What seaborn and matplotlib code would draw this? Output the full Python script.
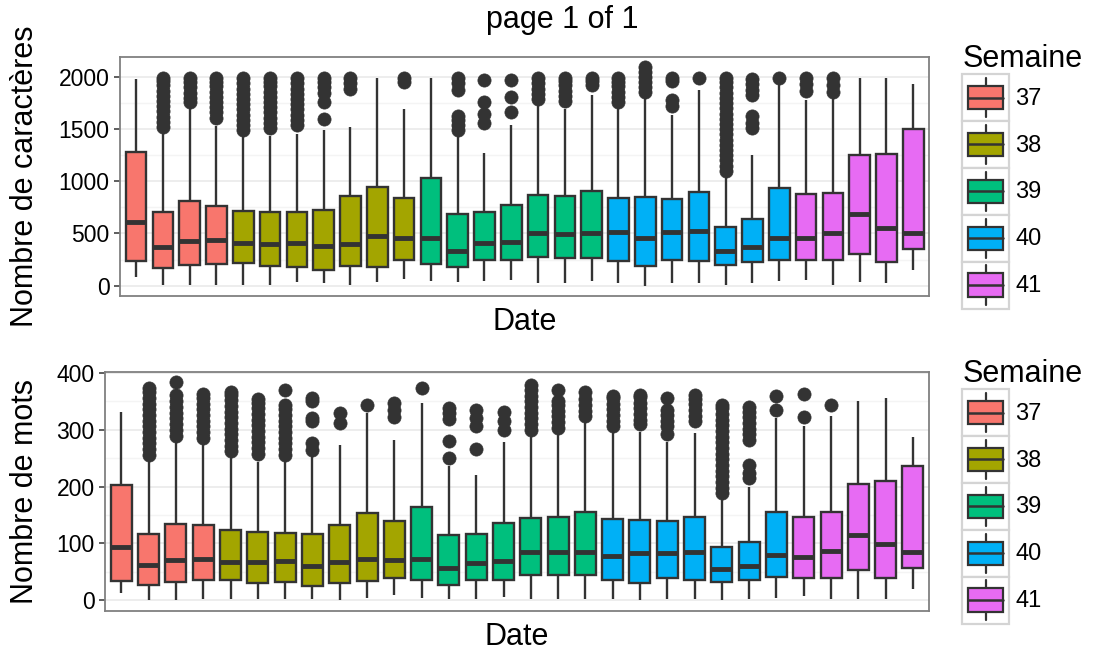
import matplotlib
matplotlib.use("Agg")
import matplotlib.pyplot as plt
from matplotlib.legend_handler import HandlerBase
from matplotlib.patches import Patch, Rectangle
from matplotlib.lines import Line2D
from matplotlib.ticker import MultipleLocator
import pandas as pd
import seaborn as sns

dates = ["2014-09-11", "2014-09-12", "2014-09-13", "2014-09-14",
         "2014-09-15", "2014-09-16", "2014-09-17", "2014-09-18", "2014-09-19", "2014-09-20", "2014-09-21",
         "2014-09-22", "2014-09-23", "2014-09-24", "2014-09-25", "2014-09-26", "2014-09-27", "2014-09-28",
         "2014-09-29", "2014-09-30", "2014-10-01", "2014-10-02", "2014-10-03", "2014-10-04", "2014-10-05",
         "2014-10-06", "2014-10-07", "2014-10-08", "2014-10-09", "2014-10-10"]
weeks = ["37", "37", "37", "37",
         "38", "38", "38", "38", "38", "38", "38",
         "39", "39", "39", "39", "39", "39", "39",
         "40", "40", "40", "40", "40", "40", "40",
         "41", "41", "41", "41", "41"]
week_order = ["37", "38", "39", "40", "41"]
week_colors = ["#F8766D", "#A3A500", "#00BF7D", "#00B0F6", "#E76BF3"]

# nombre de caractères : moustache basse, Q1, médiane, Q3, moustache haute, points extrêmes
chars_lo = [80, 10, 10, 10, 10, 10, 30, 25, 5, 35, 64, 41, 35, 41, 57,
            25, 25, 41, 25, 0, 25, 25, 10, 25, 41, 57, 10, 32, 25, 146]
chars_q1 = [240, 170, 201, 207, 217, 185, 175, 153, 191, 178, 248, 210, 178, 248, 242,
            274, 264, 264, 233, 185, 248, 239, 201, 223, 245, 242, 242, 306, 226, 350]
chars_med = [605, 366, 430, 440, 408, 398, 408, 376, 401, 471, 455, 455, 334, 408, 417,
             503, 497, 503, 513, 455, 510, 519, 334, 369, 455, 455, 503, 685, 551, 503]
chars_q3 = [1284, 704, 815, 764, 717, 710, 701, 720, 863, 949, 844, 1029, 685, 704, 771,
            869, 860, 911, 838, 847, 831, 895, 557, 640, 935, 876, 885, 1252, 1261, 1497]
chars_hi = [1984, 1459, 1713, 1529, 1452, 1433, 1452, 1490, 1522, 1994, 1698, 1991, 1433, 1268, 1538,
            1729, 1698, 1825, 1713, 1809, 1634, 1873, 1029, 1250, 1950, 1784, 1809, 1994, 1994, 1936]
chars_out = [
    [],
    [1520, 1570, 1620, 1670, 1720, 1770, 1820, 1870, 1920, 1960, 1990],
    [1760, 1800, 1850, 1900, 1950, 1990],
    [1610, 1660, 1710, 1760, 1810, 1860, 1910, 1950, 1990],
    [1490, 1540, 1590, 1640, 1690, 1740, 1790, 1840, 1890, 1940, 1990],
    [1510, 1560, 1610, 1660, 1710, 1760, 1810, 1860, 1910, 1950, 1990],
    [1540, 1590, 1640, 1690, 1740, 1790, 1840, 1890, 1940, 1990],
    [1602, 1761, 1850, 1900, 1950, 1990],
    [1890, 1940, 1990],
    [],
    [1950, 1990],
    [],
    [1490, 1540, 1590, 1630, 1880, 1940, 1990],
    [1561, 1650, 1761, 1975],
    [1666, 1809, 1975],
    [1790, 1840, 1890, 1940, 1990],
    [1770, 1820, 1870, 1920, 1960, 1990],
    [1920, 1960, 1990],
    [1765, 1810, 1860, 1910, 1950, 1990],
    [1857, 1900, 1950, 2000, 2050, 2096],
    [1720, 1775, 1960, 1995],
    [1990],
    [1100, 1150, 1200, 1250, 1300, 1350, 1400, 1450, 1500, 1550, 1600, 1650, 1700, 1750, 1800,
     1850, 1900, 1950, 1990],
    [1510, 1560, 1630, 1830, 1880, 1930, 1985],
    [1995],
    [1870, 1930, 1990],
    [1860, 1920, 1990],
    [],
    [],
    [],
]

# nombre de mots
words_lo = [13, 0, 0, 2, 2, 1, 2, 2, 0, 4, 9, 4, 2, 2, 6,
            2, 2, 2, 1, 0, 2, 2, 0, 2, 4, 7, 2, 2, 2, 20]
words_q1 = [33, 26, 32, 36, 35, 29, 32, 25, 30, 33, 39, 35, 26, 36, 36,
            44, 44, 44, 36, 30, 39, 36, 32, 35, 41, 38, 38, 52, 39, 57]
words_med = [94, 61, 70, 73, 67, 67, 68, 60, 67, 73, 70, 73, 56, 66, 68,
             85, 85, 84, 77, 83, 83, 84, 54, 60, 79, 76, 86, 115, 98, 84]
words_q3 = [202, 117, 134, 133, 123, 120, 118, 117, 132, 154, 140, 164, 114, 117, 135,
            145, 146, 155, 143, 141, 139, 146, 94, 102, 155, 146, 155, 205, 209, 237]
words_hi = [332, 243, 279, 275, 250, 244, 245, 252, 274, 329, 282, 348, 237, 221, 279,
            288, 291, 312, 295, 297, 278, 294, 177, 200, 320, 306, 325, 350, 356, 287]
words_out = [
    [],
    [256, 266, 276, 286, 296, 306, 316, 326, 336, 346, 356, 366, 374],
    [290, 300, 310, 320, 330, 340, 350, 361, 385],
    [286, 296, 306, 316, 326, 336, 346, 356, 364],
    [262, 272, 282, 292, 302, 312, 322, 332, 342, 352, 362, 367],
    [258, 268, 278, 288, 298, 308, 318, 328, 338, 348, 354],
    [256, 266, 276, 286, 296, 306, 316, 326, 336, 344, 370],
    [265, 276, 315, 320, 350, 357],
    [312, 329],
    [344],
    [323, 335, 347],
    [373],
    [250, 280, 319, 329, 338],
    [266, 306, 320, 335],
    [300, 315, 332],
    [300, 310, 320, 330, 340, 350, 360, 370, 379],
    [304, 314, 324, 334, 344, 350, 370],
    [324, 334, 344, 354, 366],
    [306, 316, 326, 336, 346, 356, 360],
    [310, 318, 328, 338, 348, 358, 361],
    [292, 306, 316, 326, 335, 356],
    [315, 325, 335, 345, 355, 361],
    [189, 198, 208, 218, 228, 238, 248, 258, 268, 278, 288, 298, 308, 318, 328, 338, 344],
    [215, 224, 238, 282, 292, 302, 312, 322, 332, 341],
    [335, 359],
    [323, 364],
    [344],
    [],
    [],
    [],
]


def build(lo, q1, med, q3, hi, out, n=60):
    # rebuild a sample whose quartiles / whiskers match the values
    rows = []
    for i, d in enumerate(dates):
        vals = [lo[i]] + [q1[i]] * n + [med[i]] * n + [q3[i]] * n + [hi[i]] + list(out[i])
        for v in vals:
            rows.append((d, weeks[i], v))
    return pd.DataFrame(rows, columns=["date", "semaine", "valeur"])


class BoxKey(HandlerBase):
    def create_artists(self, legend, orig_handle, xdescent, ydescent, width, height, fontsize, trans):
        x0, y0 = -xdescent, -ydescent
        cx = x0 + width / 2
        frame = Rectangle((x0, y0), width, height, facecolor="white", edgecolor="#d4d4d4",
                          lw=1.6, transform=trans)
        whisk = Line2D([cx, cx], [y0 + 0.08 * height, y0 + 0.92 * height], color="#333333",
                       lw=1.6, transform=trans)
        box = Rectangle((x0 + 0.125 * width, y0 + 0.25 * height), 0.75 * width, 0.5 * height,
                        facecolor=orig_handle.get_facecolor(), edgecolor="#333333", lw=1.6,
                        transform=trans)
        med = Line2D([x0 + 0.125 * width, x0 + 0.875 * width], [y0 + height / 2] * 2,
                     color="#333333", lw=1.8, transform=trans)
        return [frame, whisk, box, med]


sns.set_theme(style="whitegrid")
plt.rcParams["font.family"] = ["Liberation Sans", "DejaVu Sans"]
plt.rcParams["text.color"] = "black"
plt.rcParams["axes.labelcolor"] = "black"

W, H = 1095, 652
fig = plt.figure(figsize=(W / 100, H / 100), dpi=100)
ax1 = fig.add_axes([120 / W, 1 - 296 / H, 809.3 / W, 239.3 / H])
ax2 = fig.add_axes([105 / W, 1 - 610.7 / H, 824.3 / W, 238.7 / H])

palette = dict(zip(week_order, week_colors))
df_chars = build(chars_lo, chars_q1, chars_med, chars_q3, chars_hi, chars_out)
df_words = build(words_lo, words_q1, words_med, words_q3, words_hi, words_out)

panels = [
    (ax1, df_chars, "Nombre de caractères", (-100, 2195), 500, 250, 25),
    (ax2, df_words, "Nombre de mots", (-19, 402), 100, 50, 25),
]
for ax, df, ylab, ylim, major, minor, labpx in panels:
    sns.boxplot(data=df, x="date", y="valeur", hue="semaine", hue_order=week_order,
                palette=palette, dodge=False, width=0.77, saturation=1,
                linecolor="#333333", linewidth=1.7, showcaps=False, fliersize=9.5,
                flierprops=dict(marker="o", markerfacecolor="#333333",
                                markeredgecolor="#333333", markeredgewidth=0.5),
                medianprops=dict(linewidth=3.5), legend=False, ax=ax)
    ax.set_xlim(-0.6, len(dates) - 0.4)
    ax.set_ylim(*ylim)
    ax.yaxis.set_major_locator(MultipleLocator(major))
    ax.yaxis.set_minor_locator(MultipleLocator(minor))
    ax.set_axisbelow(True)
    ax.grid(False, axis="x")
    ax.grid(True, axis="y", which="major", color="#e8e8e8", lw=1.1)
    ax.grid(True, axis="y", which="minor", color="#f4f4f4", lw=1.0)
    ax.tick_params(axis="x", length=0, labelbottom=False)
    ax.tick_params(axis="y", which="major", length=4.5, width=1.1, color="#333333",
                   pad=3, labelsize=16.5, labelcolor="black", left=True)
    ax.tick_params(axis="y", which="minor", length=0)
    for s in ax.spines.values():
        s.set_color("#808080")
        s.set_linewidth(1.3)
    ax_left = ax.get_position().x0 * W
    ax_w = ax.get_position().width * W
    ax.set_ylabel(ylab, fontsize=22)
    ax.yaxis.set_label_coords((labpx - ax_left) / ax_w, 0.5)
    ax.yaxis.label.set_va("center")
    ax.set_xlabel("Date", fontsize=22)
    ax.xaxis.set_label_coords(0.5, -26 / 239)
    ax.xaxis.label.set_va("center")

    handles = [Patch(facecolor=c) for c in week_colors]
    ax.legend(handles, week_order, title="Semaine", handler_map={Patch: BoxKey()},
              loc="center left", bbox_to_anchor=(1 + 33 / ax_w, 0.5),
              frameon=False, fontsize=17, title_fontsize=22, alignment="left",
              handlelength=1.99, handleheight=2.68, labelspacing=0, handletextpad=0.25,
              borderpad=0, borderaxespad=0)

fig.text(562 / W, 1 - 20 / H, "page 1 of 1", ha="center", va="center", fontsize=22)

fig.savefig("out.png", dpi=100)
